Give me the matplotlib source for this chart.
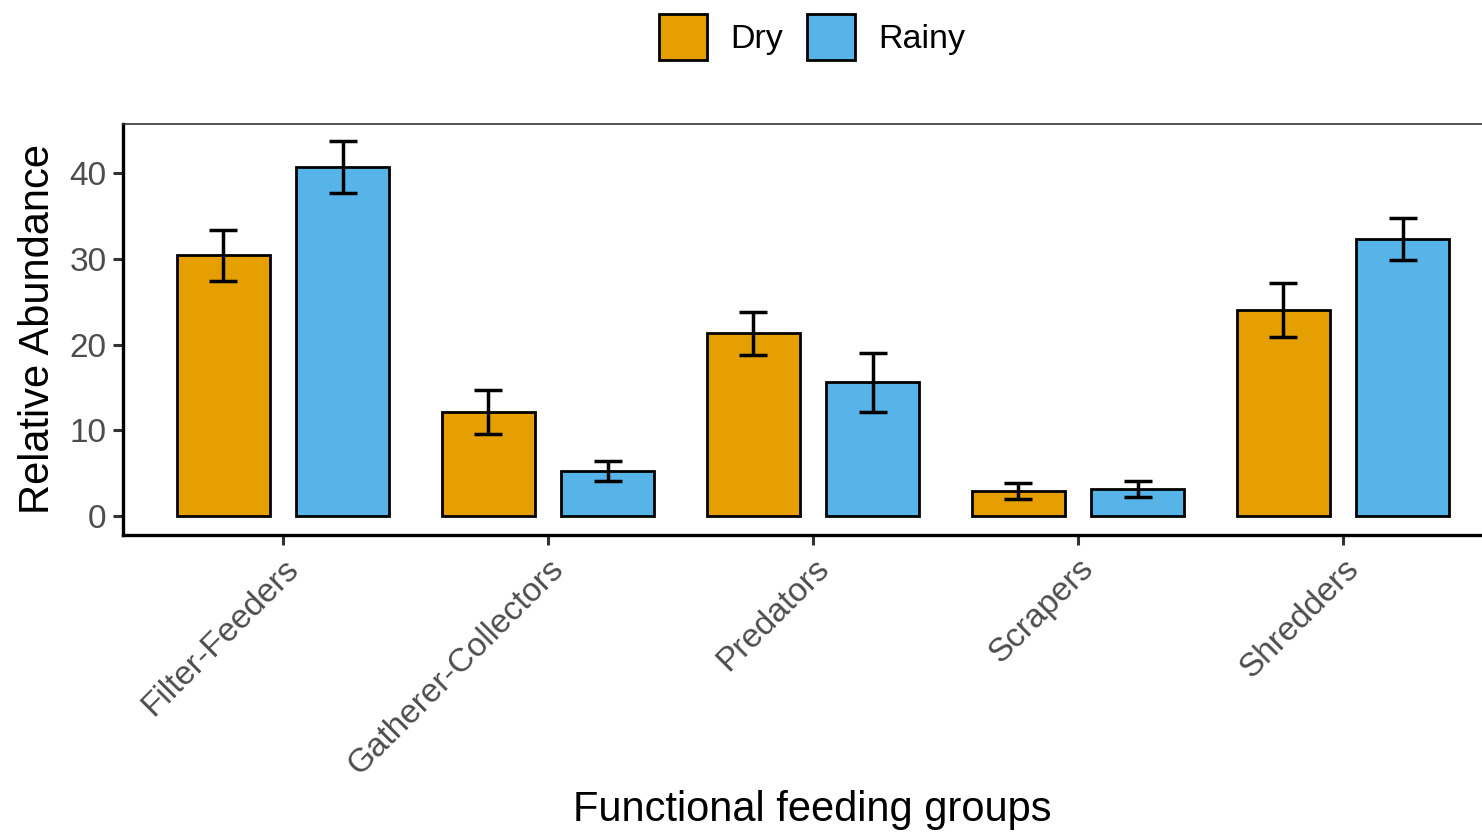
import matplotlib.pyplot as plt
import numpy as np

plt.rcParams['font.family'] = ['Liberation Sans', 'DejaVu Sans']

# data
groups = ['Filter-Feeders', 'Gatherer-Collectors', 'Predators', 'Scrapers', 'Shredders']
dry_mean = [30.4, 12.1, 21.3, 2.9, 24.0]
dry_err = [3.0, 2.55, 2.5, 0.95, 3.15]
rainy_mean = [40.7, 5.25, 15.6, 3.15, 32.3]
rainy_err = [3.0, 1.15, 3.45, 0.9, 2.45]

dry_col = '#E69F00'
rainy_col = '#56B4E9'

fig = plt.figure(figsize=(14.82, 8.35), dpi=100)
ax = fig.add_axes([123 / 1482, 1 - 535 / 835, 1379 / 1482, 411 / 835])

x = np.arange(len(groups))
w = 0.35
off = 0.225

ax.bar(x - off, dry_mean, w, color=dry_col, edgecolor='black', linewidth=2.0, label='Dry', zorder=2)
ax.bar(x + off, rainy_mean, w, color=rainy_col, edgecolor='black', linewidth=2.0, label='Rainy', zorder=2)
ax.errorbar(x - off, dry_mean, yerr=dry_err, fmt='none', ecolor='black', elinewidth=2.5,
            capsize=10, capthick=2.5, zorder=3)
ax.errorbar(x + off, rainy_mean, yerr=rainy_err, fmt='none', ecolor='black', elinewidth=2.5,
            capsize=10, capthick=2.5, zorder=3)

ax.set_xlim(-0.604, 4.6)
ax.set_ylim(-2.2, 45.7)
ax.set_yticks([0, 10, 20, 30, 40])
ax.set_xticks(x)
ax.set_xticklabels(groups, rotation=45, ha='right', va='top', rotation_mode='anchor')

ax.tick_params(axis='both', colors='#333333', labelcolor='#4D4D4D', labelsize=24,
               length=7, width=2.2)
ax.tick_params(axis='y', pad=5)
ax.tick_params(axis='x', pad=6)

for s in ['left', 'bottom']:
    ax.spines[s].set_linewidth(2.4)
    ax.spines[s].set_color('black')
ax.spines['top'].set_linewidth(1.2)
ax.spines['top'].set_color('#333333')
ax.spines['right'].set_visible(False)

ax.set_ylabel('Relative Abundance', fontsize=30, color='black', labelpad=8)
ax.set_xlabel('Functional feeding groups', fontsize=30, color='black')
ax.xaxis.set_label_coords(0.5, (535 - 790) / 411)

fig.legend(loc='upper center', bbox_to_anchor=(812.5 / 1482, 1.0), ncol=2, frameon=False,
           fontsize=24.5, handlelength=1.4, handleheight=1.7, handletextpad=0.7,
           columnspacing=0.7, borderaxespad=0.0)

fig.savefig('out.png', dpi=100)
